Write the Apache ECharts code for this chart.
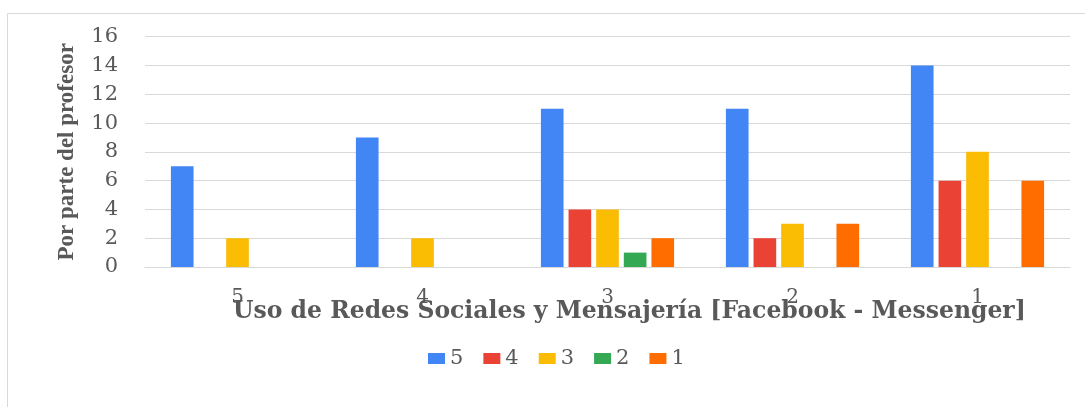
<!DOCTYPE html>
<html>
<head>
<meta charset="utf-8">
<script src="https://cdn.jsdelivr.net/npm/echarts@6/dist/echarts.min.js"></script>
<style>
html,body{margin:0;padding:0;background:#fff;}
#chart{width:1085px;height:407px;}
</style>
</head>
<body>
<div id="chart"></div>
<script>
const categories = ['5', '4', '3', '2', '1'];
const seriesNames = ['5', '4', '3', '2', '1'];
const values5 = [7, 9, 11, 11, 14];
const values4 = [0, 0, 4, 2, 6];
const values3 = [2, 2, 4, 3, 8];
const values2 = [0, 0, 1, 0, 0];
const values1 = [0, 0, 2, 3, 6];
const colors = ['#4285F4', '#EA4335', '#FBBC04', '#34A853', '#FF6D01'];
const yTitle = 'Por parte del profesor';
const xTitle = 'Uso de Redes Sociales y Mensajería [Facebook - Messenger]';

const allValues = [values5, values4, values3, values2, values1];
const chart = echarts.init(document.getElementById('chart'));
const labelColor = '#595959';
const numFont = 'DejaVu Serif';

chart.setOption({
  backgroundColor: '#ffffff',
  animation: false,
  color: colors,
  graphic: [
    {
      type: 'rect',
      shape: { x: 7.5, y: 13.5, width: 1100, height: 420 },
      style: { fill: 'none', stroke: '#d9d9d9', lineWidth: 1 },
      silent: true
    },
    {
      type: 'text',
      left: 233,
      top: 300,
      style: {
        text: xTitle,
        fill: labelColor,
        font: 'bold 23.5px "DejaVu Serif"'
      }
    }
  ],
  grid: { left: 145, right: 15, top: 36.7, bottom: 140, containLabel: false },
  legend: {
    data: seriesNames,
    left: 423,
    top: 343,
    itemWidth: 17,
    itemHeight: 11,
    itemGap: 20,
    icon: 'rect',
    textStyle: { color: labelColor, fontFamily: numFont, fontSize: 21 }
  },
  xAxis: {
    type: 'category',
    data: categories,
    axisLine: { lineStyle: { color: '#d9d9d9' } },
    axisTick: { show: false },
    axisLabel: { color: labelColor, fontFamily: numFont, fontSize: 20, margin: 21 }
  },
  yAxis: {
    type: 'value',
    min: 0,
    max: 16,
    interval: 2,
    name: yTitle,
    nameLocation: 'middle',
    nameGap: 66,
    nameTextStyle: { color: labelColor, fontFamily: 'Liberation Serif', fontWeight: 'bold', fontSize: 23 },
    axisLine: { show: false },
    axisTick: { show: false },
    splitLine: { lineStyle: { color: '#d9d9d9' } },
    axisLabel: { color: labelColor, fontFamily: numFont, fontSize: 21, margin: 27 }
  },
  series: seriesNames.map((n, i) => ({
    name: n,
    type: 'bar',
    data: allValues[i],
    barGap: '22%',
    barCategoryGap: '28%'
  }))
});
</script>
</body>
</html>
